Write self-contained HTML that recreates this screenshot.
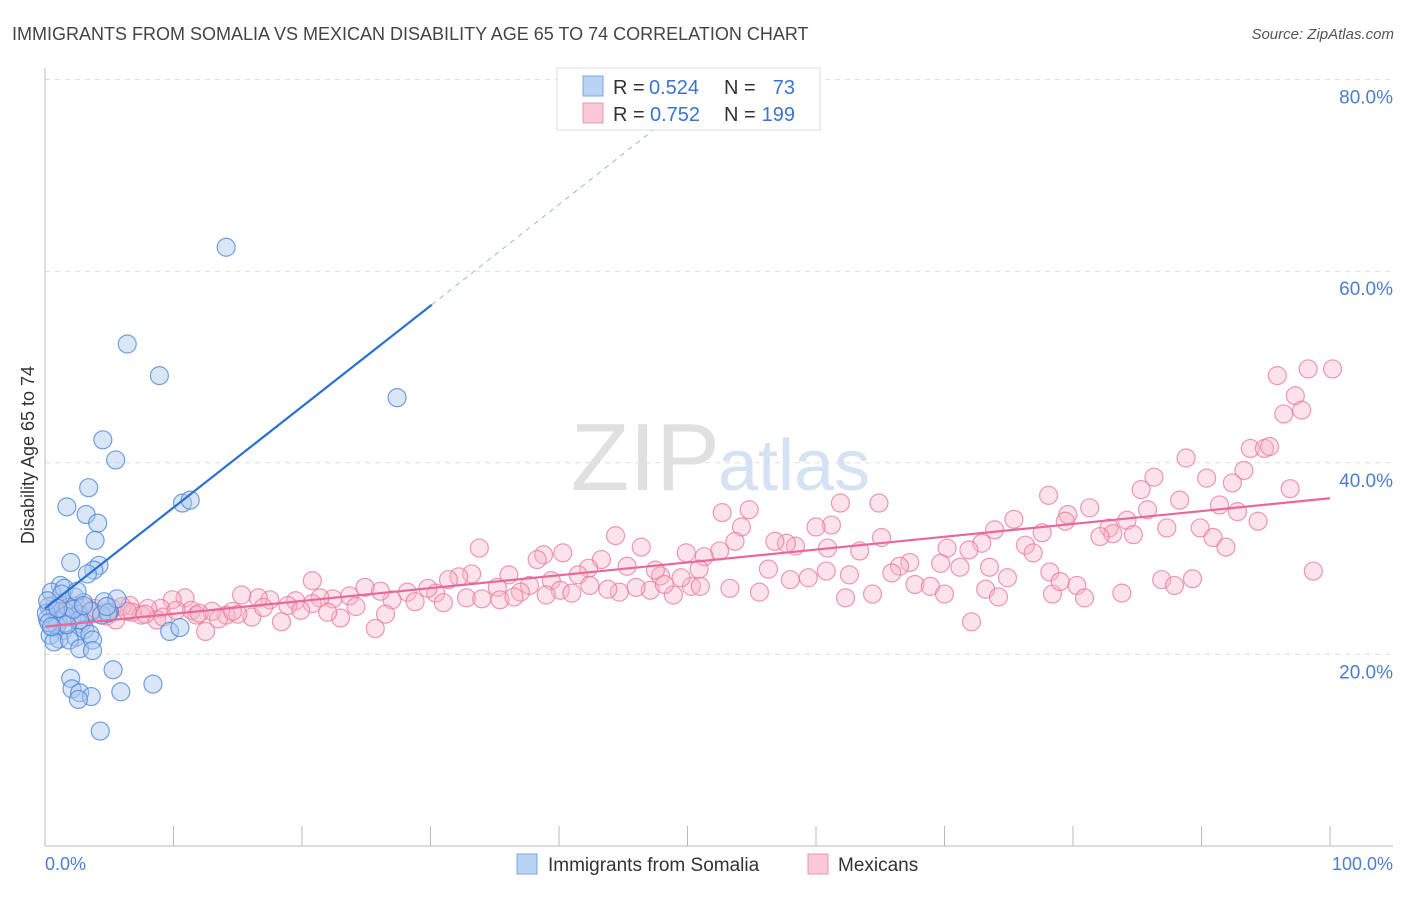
<!DOCTYPE html>
<html><head><meta charset="utf-8"><style>
body{margin:0;background:#fff;font-family:"Liberation Sans",sans-serif}
svg text{font-family:"Liberation Sans",sans-serif}
</style></head><body>
<svg width="1406" height="892">
<text x="12" y="40" font-size="18" fill="#444">IMMIGRANTS FROM SOMALIA VS MEXICAN DISABILITY AGE 65 TO 74 CORRELATION CHART</text>
<text x="1394" y="39" font-size="15" fill="#555" text-anchor="end" font-style="italic">Source: ZipAtlas.com</text>
<text x="720" y="490" font-size="96" fill="#e0e0e0" text-anchor="end" font-family="Liberation Serif">ZIP</text>
<text x="718" y="490" font-size="72" fill="#d5e2f3">atlas</text>
<g id="grid"></g>
<line x1="45" y1="68" x2="45" y2="846" stroke="#bbb"/>
<line x1="45" y1="846" x2="1393" y2="846" stroke="#bbb"/>
<text transform="translate(34,455) rotate(-90)" font-size="18" fill="#333" text-anchor="middle">Disability Age 65 to 74</text>
<text x="45" y="870" font-size="18" fill="#4a7fd0">0.0%</text>
<text x="1393" y="870" font-size="18" fill="#4a7fd0" text-anchor="end">100.0%</text>
<g id="pts"></g>
<g id="lines"></g>
<g>
<rect x="557" y="68" width="263" height="62" fill="#fff" stroke="#ddd"/>
<rect x="583" y="76" width="20" height="20" fill="#b9d3f5" stroke="#7aa7e5"/>
<rect x="583" y="103" width="20" height="20" fill="#fbc8d7" stroke="#ee94b0"/>
<text x="613" y="94" font-size="20" fill="#333">R =</text>
<text x="649" y="94" font-size="20" fill="#3a73d0">0.524</text>
<text x="724" y="94" font-size="20" fill="#333">N =</text>
<text x="795" y="94" font-size="20" fill="#3a73d0" text-anchor="end">73</text>
<text x="613" y="121" font-size="20" fill="#333">R =</text>
<text x="650" y="121" font-size="20" fill="#3a73d0">0.752</text>
<text x="724" y="121" font-size="20" fill="#333">N =</text>
<text x="795" y="121" font-size="20" fill="#3a73d0" text-anchor="end">199</text>
</g>
<rect x="517" y="854" width="20" height="20" fill="#b9d3f5" stroke="#7aa7e5"/>
<text x="548" y="871" font-size="19" fill="#333">Immigrants from Somalia</text>
<rect x="808" y="854" width="20" height="20" fill="#fbc8d7" stroke="#ee94b0"/>
<text x="838" y="871" font-size="19" fill="#333">Mexicans</text>
</svg>
<script>
const yTicks=[20,40,60,80];
const xTicks=[0,10,20,30,40,50,60,70,80,90,100];
const blueX=[14.1,6.4,8.9,27.4,4.5,5.5,3.4,10.7,11.3,1.7,3.2,4.1,3.9,2.0,4.2,3.8,3.3,1.2,0.5,1.5,2.3,3.0,0.3,0.8,1.8,2.6,4.6,5.0,0.2,1.0,2.1,3.6,4.4,0.6,1.4,2.8,0.4,1.1,2.4,3.1,0.9,1.6,0.1,2.7,4.9,0.7,1.9,3.5,9.7,10.5,2.7,3.7,3.7,5.3,2.0,2.1,5.9,8.4,2.7,3.6,2.6,4.3,1.3,2.5,0.2,5.6,0.3,1.7,2.2,4.8,1.0,3.0,0.5];
const blueY=[62.5,52.4,49.1,46.8,42.4,40.3,37.4,35.8,36.1,35.4,34.6,33.7,31.9,29.6,29.3,28.8,28.4,27.2,26.5,26.9,26.0,25.4,25.0,24.6,24.9,24.2,25.5,24.4,23.7,23.5,23.9,24.5,24.1,22.8,22.5,23.2,22.0,21.6,21.8,22.6,23.0,24.0,24.3,23.6,24.3,21.3,21.5,22.1,22.4,22.8,20.6,21.5,20.4,18.4,17.5,16.4,16.1,16.9,16.0,15.6,15.3,12.0,26.3,26.6,25.6,25.8,23.3,23.1,24.7,25.0,24.8,25.1,22.9];
const pinkX=[100.2,98.3,95.9,97.3,97.8,96.4,93.8,94.9,95.3,93.3,88.8,86.3,85.3,96.9,92.4,90.4,88.3,91.4,92.8,94.4,89.9,90.9,91.9,87.3,85.8,84.2,84.7,82.8,83.1,82.1,81.3,79.6,79.4,78.1,77.6,76.3,76.9,75.4,73.9,72.9,71.9,70.2,71.2,69.7,67.3,66.5,65.9,65.1,64.9,63.4,61.9,61.2,60.0,60.9,60.8,62.6,59.4,58.4,57.7,56.8,56.3,54.8,54.2,53.7,52.7,52.5,51.3,50.9,49.9,50.3,49.5,47.9,47.5,46.4,45.3,44.4,43.3,42.3,41.5,40.3,38.8,38.3,39.4,37.7,36.1,35.2,33.8,33.2,32.2,31.4,30.4,32.8,29.8,28.2,27.0,26.1,24.9,23.7,22.4,20.8,21.4,19.5,18.9,17.5,16.6,15.3,14.1,13.0,12.5,10.9,9.9,9.0,8.0,6.6,25.7,18.4,23.0,16.1,8.7,15.0,11.4,20.8,35.4,37.0,40.1,42.4,44.7,47.1,48.9,51.0,53.3,55.6,58.0,62.3,64.4,67.7,68.9,70.0,72.1,73.2,74.2,74.9,78.2,78.4,80.3,80.9,83.8,86.9,87.9,89.3,98.7,79.0,73.5,0.5,1.2,2.0,2.8,3.6,4.4,5.2,6.0,6.8,7.5,1.5,3.0,4.8,5.5,6.4,7.8,9.2,10.2,11.8,13.5,0.8,2.4,3.9,12.0,14.6,17.0,19.9,22.0,24.2,26.5,28.8,31.0,34.0,36.5,39.0,41.0,43.8,46.0,48.2];
const pinkY=[49.8,49.8,49.1,47.0,45.5,45.1,41.5,41.5,41.7,39.2,40.5,38.5,37.2,37.3,37.9,38.4,36.1,35.6,34.9,33.9,33.2,32.2,31.2,33.2,35.1,34.0,32.5,33.2,32.6,32.3,35.3,34.6,33.9,36.6,32.7,31.4,30.6,34.1,33.0,31.6,30.9,31.1,29.1,29.5,29.6,29.2,28.5,32.2,35.8,30.8,35.8,33.5,33.3,31.1,28.7,28.3,28.0,31.3,31.6,31.8,28.9,35.1,33.3,31.8,34.8,30.8,30.2,28.9,30.6,27.1,28.0,28.2,28.8,31.2,29.2,32.4,29.9,29.0,28.3,30.6,30.4,29.9,27.7,27.2,28.3,27.0,31.1,28.4,28.1,27.8,26.4,25.9,26.9,26.5,25.7,26.6,27.0,26.1,25.8,27.7,25.9,25.6,25.1,25.7,25.9,26.2,24.1,24.5,22.4,25.9,25.7,24.8,24.8,25.1,22.7,23.4,23.8,23.9,23.6,24.2,24.6,25.3,25.7,26.5,26.7,27.2,26.5,26.7,26.2,27.1,26.9,26.5,27.8,25.9,26.3,27.3,27.1,26.3,23.4,26.8,26.0,28.0,28.6,26.3,27.2,25.9,26.4,27.8,27.2,27.9,28.7,27.6,29.1,24.6,24.9,24.4,25.0,24.6,24.3,24.8,25.0,24.4,24.1,23.8,23.5,24.0,23.6,24.5,24.2,23.9,24.6,24.1,23.7,25.3,25.1,24.8,24.3,24.5,24.9,24.6,24.4,25.0,24.2,25.5,25.4,25.8,26.0,26.2,26.4,26.8,27.0,27.3];
const X0=45,X1=1330,Y0=846,YS=9.58;
const sx=v=>X0+v*(X1-X0)/100, sy=v=>Y0-v*YS;
const NS="http://www.w3.org/2000/svg";
const grid=document.getElementById('grid');
yTicks.forEach(t=>{
 const l=document.createElementNS(NS,'line');
 l.setAttribute('x1',45);l.setAttribute('x2',1393);l.setAttribute('y1',sy(t));l.setAttribute('y2',sy(t));
 l.setAttribute('stroke','#ddd');l.setAttribute('stroke-dasharray','5,5');
 
 
 grid.appendChild(l);
 const tx=document.createElementNS(NS,'text');
 tx.setAttribute('x',1393);tx.setAttribute('y',sy(t)+24);tx.setAttribute('text-anchor','end');
 tx.setAttribute('font-size','19');tx.setAttribute('fill','#4a7fd0');tx.textContent=t.toFixed(1)+'%';
 
 
 grid.appendChild(tx);
});
xTicks.forEach(t=>{
 const l=document.createElementNS(NS,'line');
 l.setAttribute('x1',sx(t));l.setAttribute('x2',sx(t));l.setAttribute('y1',826);l.setAttribute('y2',846);
 l.setAttribute('stroke','#bbb');
 
 
 grid.appendChild(l);
});
const pts=document.getElementById('pts');
function dot(x,y,f,s,name){
 const c=document.createElementNS(NS,'circle');
 c.setAttribute('cx',sx(x));c.setAttribute('cy',sy(y));c.setAttribute('r',9);
 c.setAttribute('fill',f);c.setAttribute('stroke',s);c.setAttribute('stroke-width','1.2');
 
 
 pts.appendChild(c);
}
pinkX.forEach((x,i)=>dot(x,pinkY[i],'rgba(248,180,200,0.38)','rgba(232,120,155,0.75)','mexicans-point'));
blueX.forEach((x,i)=>dot(x,blueY[i],'rgba(170,200,240,0.45)','rgba(70,130,215,0.75)','somalia-point'));
const lines=document.getElementById('lines');
function ln(x1,y1,x2,y2,col,w,dash,name){
 const l=document.createElementNS(NS,'line');
 l.setAttribute('x1',sx(x1));l.setAttribute('y1',sy(y1));l.setAttribute('x2',sx(x2));l.setAttribute('y2',sy(y2));
 l.setAttribute('stroke',col);l.setAttribute('stroke-width',w);if(dash)l.setAttribute('stroke-dasharray',dash);
 
 
 lines.appendChild(l);
}
ln(0,24.8,30.1,56.5,'#2a6fd6',2.2,null,'somalia-trendline');
ln(30.1,56.5,47.5,74.9,'#9bb8e0',1,'5,5','somalia-trendline-extension');
ln(0,22.9,100,36.3,'#e8689a',2.2,null,'mexicans-trendline');
</script>
</body></html>
